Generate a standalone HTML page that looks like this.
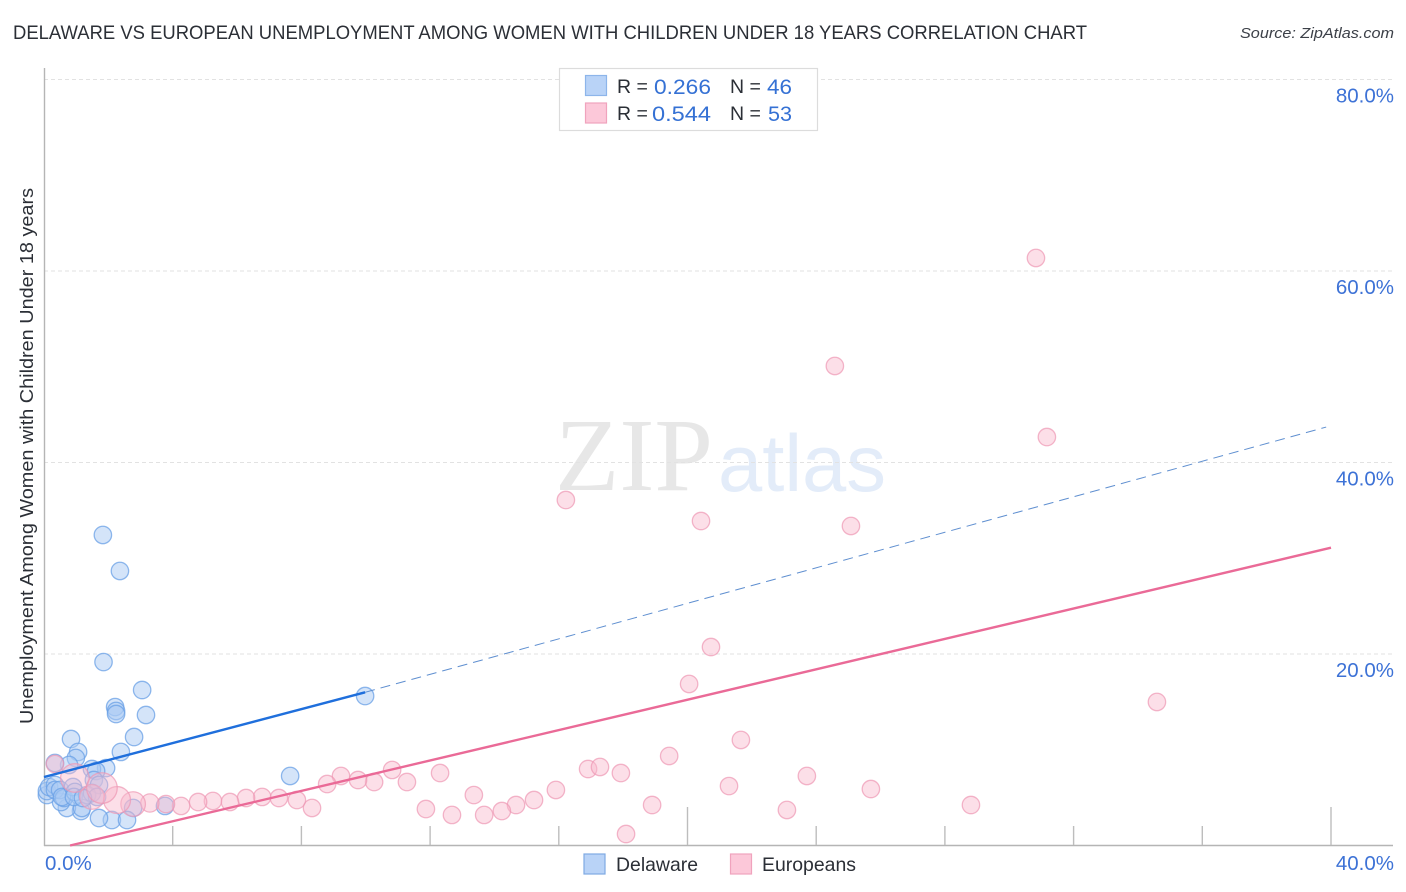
<!DOCTYPE html>
<html lang="en">
<head>
<meta charset="utf-8">
<title>Delaware vs European Unemployment Correlation Chart</title>
<style>
html,body{margin:0;padding:0;background:#fff;}
svg{display:block;font-family:"Liberation Sans",sans-serif;}
</style>
</head>
<body>
<svg id="chart" xmlns="http://www.w3.org/2000/svg" width="1406" height="892" viewBox="0 0 1406 892">
  <rect x="0" y="0" width="1406" height="892" fill="#ffffff"/>
  <text x="13" y="39" font-size="19.5" fill="#2b2f36" textLength="1074" lengthAdjust="spacingAndGlyphs">DELAWARE VS EUROPEAN UNEMPLOYMENT AMONG WOMEN WITH CHILDREN UNDER 18 YEARS CORRELATION CHART</text>
  <text x="1394" y="38" font-size="15" font-style="italic" fill="#3c4048" text-anchor="end" textLength="154" lengthAdjust="spacingAndGlyphs">Source: ZipAtlas.com</text>

  <g>
    <text x="555" y="490" font-family="'Liberation Serif',serif" font-size="104" fill="#e7e7e7" textLength="158" lengthAdjust="spacingAndGlyphs">ZIP</text>
    <text x="718" y="491" font-size="81" fill="#e3ecf9" textLength="168" lengthAdjust="spacingAndGlyphs">atlas</text>
  </g>

  <g id="grid"></g>
  <g id="axes"></g>
  <g id="points"></g>
  <g id="trends"></g>
  <g id="labels"></g>

  <text transform="translate(33,456) rotate(-90)" font-size="18.6" fill="#2b2f36" text-anchor="middle" textLength="536" lengthAdjust="spacingAndGlyphs">Unemployment Among Women with Children Under 18 years</text>

  <g>
    <rect x="559.5" y="68.5" width="258" height="62" fill="#ffffff" stroke="#dcdcdc" stroke-width="1.2"/>
    <rect x="585.5" y="75.5" width="21" height="20" fill="#b9d3f7" stroke="#8db5ea" stroke-width="1.2"/>
    <rect x="585.5" y="103" width="21" height="20" fill="#fcc8d9" stroke="#f0a3bd" stroke-width="1.2"/>
    <g font-size="19.5" fill="#2b2f36">
      <text x="617" y="93">R =</text>
      <text x="617" y="120">R =</text>
      <text x="730" y="93">N =</text>
      <text x="730" y="120">N =</text>
    </g>
    <g font-size="21.5" fill="#3571d4">
      <text x="654" y="94" textLength="57" lengthAdjust="spacingAndGlyphs">0.266</text>
      <text x="652" y="121" textLength="59" lengthAdjust="spacingAndGlyphs">0.544</text>
      <text x="767" y="94" textLength="25" lengthAdjust="spacingAndGlyphs">46</text>
      <text x="768" y="121" textLength="24" lengthAdjust="spacingAndGlyphs">53</text>
    </g>
  </g>

  <g>
    <rect x="584" y="854" width="21" height="20" fill="#b9d3f7" stroke="#7faae3" stroke-width="1.2"/>
    <text x="616" y="871" font-size="19.5" fill="#2b2f36" textLength="82" lengthAdjust="spacingAndGlyphs">Delaware</text>
    <rect x="730.5" y="854" width="21" height="20" fill="#fcc8d9" stroke="#f0a3bd" stroke-width="1.2"/>
    <text x="762" y="871" font-size="19.5" fill="#2b2f36" textLength="94" lengthAdjust="spacingAndGlyphs">Europeans</text>
  </g>
</svg>
<script>
const yGridValues = [20, 40, 60, 80];
const yTickLabels = ["20.0%", "40.0%", "60.0%", "80.0%"];
const xTickValues = [4, 8, 12, 16, 20, 24, 28, 32, 36, 40];
const xMajorTicks = [20, 40];
const xEndValues = [0, 40];
const xEndLabels = ["0.0%", "40.0%"];

const delawareX = [1.83,2.36,1.85,3.05,2.21,2.24,2.24,3.17,2.80,0.84,2.39,1.06,0.99,0.78,0.34,1.93,1.49,1.62,1.55,1.71,7.65,9.98,2.77,3.76,2.11,1.71,2.58,1.15,0.71,1.18,0.53,0.09,0.09,0.16,0.34,0.34,0.50,0.62,0.56,0.90,0.96,0.93,1.34,1.49,1.65,1.21];
const delawareY = [32.43,28.67,19.16,16.24,14.46,14.05,13.73,13.63,11.33,11.12,9.77,9.77,9.14,8.41,8.62,8.09,7.99,7.78,6.84,6.32,7.26,15.61,3.92,4.13,2.66,2.87,2.66,3.60,3.92,3.92,4.54,5.27,5.69,6.11,6.32,5.80,5.80,4.96,5.07,6.11,5.59,5.07,5.27,5.48,5.07,4.96];

const europeansX = [30.83,24.58,31.17,16.22,20.42,25.08,20.73,20.05,34.59,21.66,19.43,23.71,16.91,17.28,17.93,21.29,25.70,28.81,23.09,18.90,18.09,15.91,15.23,14.67,14.23,13.68,13.36,12.68,12.31,11.87,11.28,10.82,10.26,9.76,9.23,8.80,8.33,7.86,7.30,6.78,6.28,5.78,5.25,4.79,4.26,3.79,3.29,2.77,2.27,1.49,0.96,0.34,1.80];
const europeansY = [61.36,50.08,42.66,36.08,33.89,33.37,20.73,16.87,14.99,11.02,9.35,7.26,7.99,8.20,7.57,6.21,5.90,4.23,3.71,4.23,1.20,5.80,4.75,4.23,3.60,3.19,5.27,3.19,7.57,3.81,6.63,7.89,6.63,6.84,7.26,6.42,3.92,4.75,4.96,5.07,4.96,4.54,4.65,4.54,4.13,4.33,4.44,4.33,4.75,5.07,7.05,8.51,6.00];
const europeansWeight = [1,1,1,1,1,1,1,1,1,1,1,1,1,1,1,1,1,1,1,1,1,1,1,1,1,1,1,1,1,1,1,1,1,1,1,1,1,1,1,1,1,1,1,1,1,1,1.1,2,2.4,2,2.7,1,3.1];

const delawareTrendX = [0, 9.98, 39.85];
const delawareTrendY = [7.15, 16.0, 43.7];
const europeansTrendX = [0.81, 40];
const europeansTrendY = [0, 31.1];

const NS = "http://www.w3.org/2000/svg";
const xScale = v => 44 + v * 32.175;
const yScale = v => 845.5 - v * 9.575;
const radius = w => 8.7 * Math.sqrt(w);

function make(tag, parent, attrs) {
  const el = document.createElementNS(NS, tag);
  for (const k in attrs) el.setAttribute(k, attrs[k]);
  parent.appendChild(el);
  return el;
}

const grid = document.getElementById("grid");
const axes = document.getElementById("axes");
const labels = document.getElementById("labels");
const points = document.getElementById("points");
const trends = document.getElementById("trends");

yGridValues.forEach(function (v, i) {
  const line = make("line", grid, {x1: 44, x2: 1393, y1: yScale(v), y2: yScale(v), stroke: "#e2e2e2", "stroke-width": 1, "stroke-dasharray": "4 3"});
  
  
  const t = make("text", labels, {x: 1394, y: yScale(v) + 23, "font-size": 20.5, fill: "#3d72d6", "text-anchor": "end"});
  
  
  t.textContent = yTickLabels[i];
});

const yAxis = make("line", axes, {x1: 44.5, x2: 44.5, y1: 68, y2: 846, stroke: "#b5b5b5", "stroke-width": 1.4});


const xAxis = make("line", axes, {x1: 44, x2: 1393, y1: 845.5, y2: 845.5, stroke: "#b5b5b5", "stroke-width": 1.4});



xTickValues.forEach(function (v) {
  const top = xMajorTicks.indexOf(v) >= 0 ? 807 : 826;
  const tick = make("line", axes, {x1: xScale(v), x2: xScale(v), y1: top, y2: 845, stroke: "#bdbdbd", "stroke-width": 1.4});
  
  
});

xEndValues.forEach(function (v, i) {
  const px = i === 0 ? xScale(v) + 1 : 1394;
  const t = make("text", labels, {x: px, y: 870, "font-size": 20.5, fill: "#3d72d6", "text-anchor": i === 0 ? "start" : "end"});
  
  
  t.textContent = xEndLabels[i];
});

delawareX.forEach(function (v, i) {
  const c = make("circle", points, {cx: xScale(v), cy: yScale(delawareY[i]), r: 8.7, fill: "#a9c9f3", "fill-opacity": 0.5, stroke: "#6aa0e6", "stroke-opacity": 0.75, "stroke-width": 1.3});
  
  
});

europeansX.forEach(function (v, i) {
  const c = make("circle", points, {cx: xScale(v), cy: yScale(europeansY[i]), r: radius(europeansWeight[i]), fill: "#f9b8cd", "fill-opacity": 0.45, stroke: "#ee97b3", "stroke-opacity": 0.7, "stroke-width": 1.3});
  
  
});

const delawareSolid = make("line", trends, {x1: xScale(delawareTrendX[0]), y1: yScale(delawareTrendY[0]), x2: xScale(delawareTrendX[1]), y2: yScale(delawareTrendY[1]), stroke: "#1f6fdc", "stroke-width": 2.4});



const delawareDashed = make("line", trends, {x1: xScale(delawareTrendX[1]), y1: yScale(delawareTrendY[1]), x2: xScale(delawareTrendX[2]), y2: yScale(delawareTrendY[2]), stroke: "#5f8fd0", "stroke-width": 1, "stroke-dasharray": "10 6"});



const europeansLine = make("line", trends, {x1: xScale(europeansTrendX[0]), y1: yScale(europeansTrendY[0]), x2: xScale(europeansTrendX[1]), y2: yScale(europeansTrendY[1]), stroke: "#ea6a97", "stroke-width": 2.4});


</script>
</body>
</html>
